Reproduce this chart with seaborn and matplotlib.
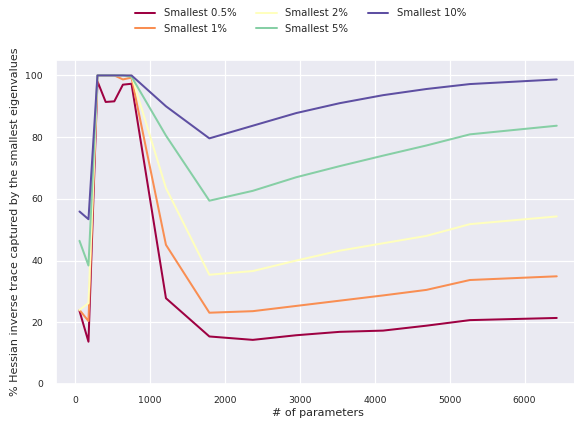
import numpy as np
import pandas as pd
import matplotlib
matplotlib.use("Agg")
import matplotlib.pyplot as plt
import seaborn as sns

# Number of model parameters for each run
params = [55, 175, 295, 405, 520, 635, 750, 1210, 1790, 2370, 2950, 3530,
          4110, 4690, 5270, 6430]

# Share (%) of the Hessian inverse trace captured by the smallest eigenvalues
smallest_0_5 = [23.7, 13.7, 98.1, 91.4, 91.6, 97.0, 97.3, 27.8, 15.4, 14.3,
                15.8, 16.9, 17.3, 18.9, 20.7, 21.4]
smallest_1 = [24.0, 20.4, 100.0, 100.0, 100.0, 98.7, 99.3, 45.1, 23.1, 23.6,
              25.3, 27.0, 28.7, 30.5, 33.7, 34.9]
smallest_2 = [24.0, 26.2, 100.0, 100.0, 100.0, 100.0, 100.0, 63.5, 35.4, 36.6,
              40.0, 43.2, 45.6, 48.0, 51.8, 54.3]
smallest_5 = [46.4, 38.4, 100.0, 100.0, 100.0, 100.0, 99.6, 80.5, 59.4, 62.6,
              67.0, 70.6, 74.0, 77.3, 80.9, 83.7]
smallest_10 = [55.9, 53.4, 100.0, 100.0, 100.0, 100.0, 100.0, 90.0, 79.6, 83.7,
               87.8, 91.0, 93.6, 95.6, 97.2, 98.7]

labels = ["Smallest 0.5%", "Smallest 1%", "Smallest 2%", "Smallest 5%",
          "Smallest 10%"]
series = [smallest_0_5, smallest_1, smallest_2, smallest_5, smallest_10]

df = pd.concat(
    [pd.DataFrame({"params": params, "pct": vals, "series": lab})
     for lab, vals in zip(labels, series)],
    ignore_index=True,
)

sns.set_theme(style="darkgrid")
plt.rcParams["font.family"] = ["DejaVu Sans"]

colors = [matplotlib.colors.to_hex(c)
          for c in plt.cm.Spectral(np.linspace(0, 1, len(labels)))]

fig = plt.figure(figsize=(5.74, 4.21), dpi=100)
ax = fig.add_axes([0.0969, 0.0879, 0.9146, 0.7696])

sns.lineplot(data=df, x="params", y="pct", hue="series", hue_order=labels,
             palette=colors, linewidth=1.45, ax=ax)

ax.set_ylim(0, 105)
ax.set_xticks([0, 1000, 2000, 3000, 4000, 5000, 6000])
ax.set_yticks([0, 20, 40, 60, 80, 100])
ax.tick_params(labelsize=6.7, pad=3)
ax.grid(linewidth=0.9)
ax.set_xlabel("# of parameters", fontsize=8, labelpad=2)
ax.set_ylabel("% Hessian inverse trace captured by the smallest eigenvalues",
              fontsize=8, labelpad=4)

handles, labs = ax.get_legend_handles_labels()
ax.get_legend().remove()
fig.legend(handles, labs, loc="center", ncol=3, fontsize=7.3, frameon=False,
           bbox_to_anchor=(300.5 / 574, 1 - 21 / 421))

fig.savefig("out.png", dpi=100)
